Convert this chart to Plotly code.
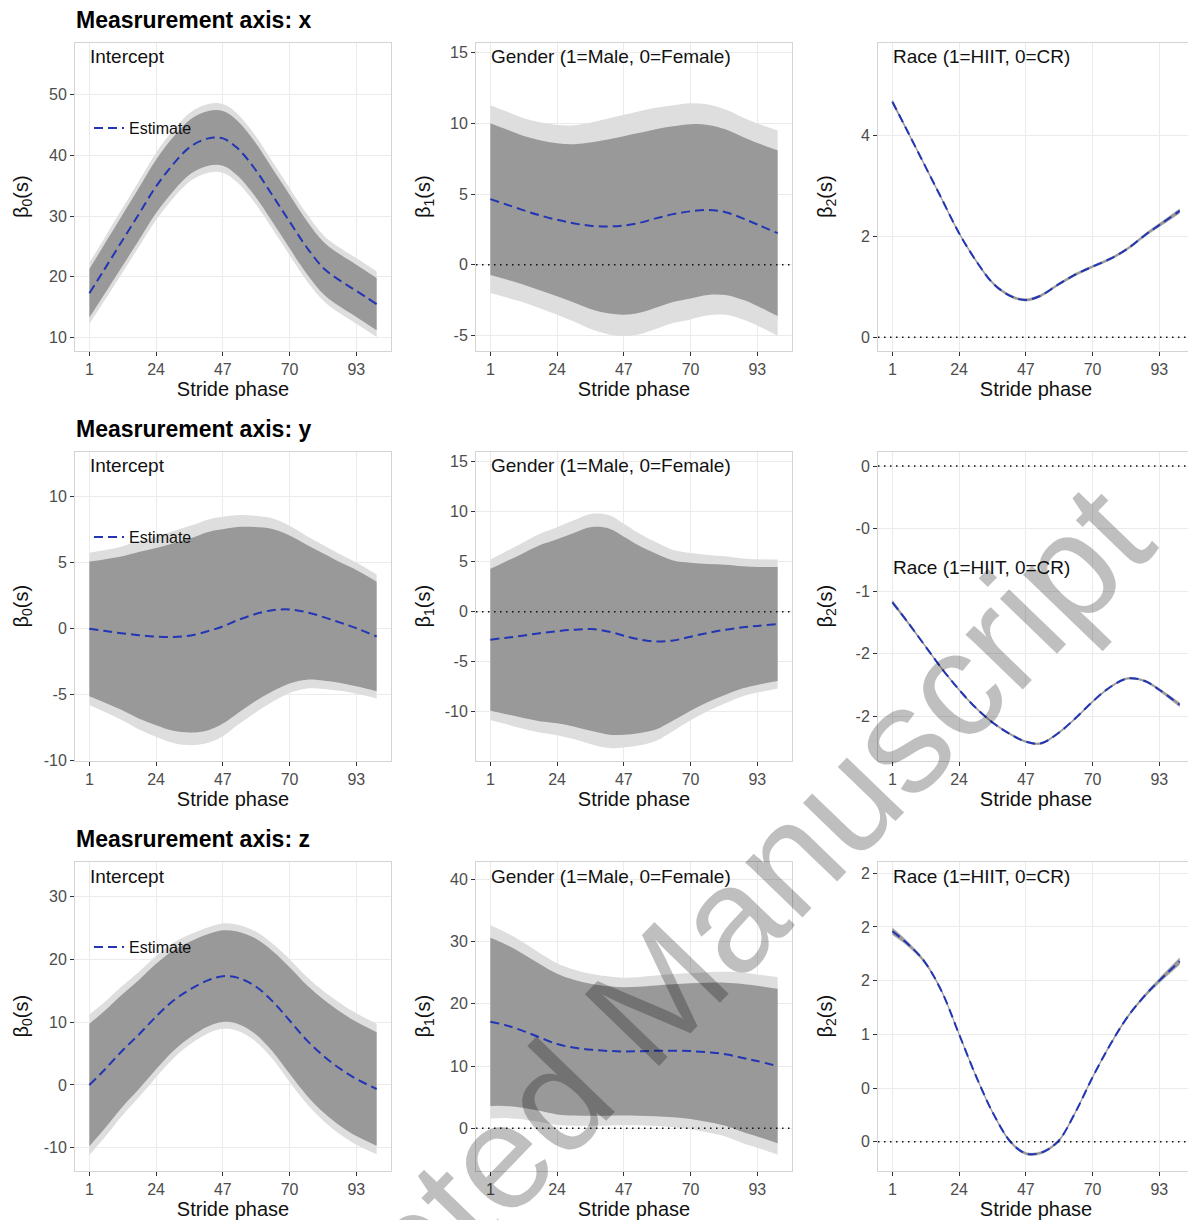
import plotly.graph_objects as go

# ---------------- data ----------------
STRIDE = [1, 6, 12, 18, 24, 30, 36, 42, 47, 52, 58, 64, 70, 76, 82, 88, 93, 100]
X_TICKS = [1, 24, 47, 70, 93]

# Measurement axis x
X_INT_EST = [17.3, 21.1, 25.7, 30.3, 34.9, 38.6, 41.5, 42.8, 42.8, 41.2, 37.8, 33.5, 29.1, 24.8, 21.3, 19.2, 17.7, 15.5]
X_INT_PW = [4.0, 4.1, 4.2, 4.3, 4.4, 4.45, 4.5, 4.5, 4.5, 4.5, 4.45, 4.4, 4.4, 4.35, 4.3, 4.3, 4.3, 4.3]
X_INT_SIM = [5.05, 5.15, 5.3, 5.4, 5.55, 5.6, 5.65, 5.65, 5.65, 5.65, 5.6, 5.55, 5.55, 5.5, 5.4, 5.4, 5.4, 5.4]

X_GEN_EST = [4.64, 4.3, 3.88, 3.5, 3.18, 2.92, 2.75, 2.71, 2.78, 2.95, 3.28, 3.58, 3.78, 3.88, 3.72, 3.28, 2.85, 2.24]
X_GEN_PW = [5.35, 5.3, 5.25, 5.3, 5.4, 5.6, 5.9, 6.15, 6.3, 6.35, 6.3, 6.2, 6.15, 6.0, 5.85, 5.75, 5.75, 5.85]
X_GEN_SIM = [6.63, 6.57, 6.51, 6.57, 6.7, 6.94, 7.32, 7.63, 7.81, 7.87, 7.81, 7.69, 7.63, 7.44, 7.25, 7.13, 7.13, 7.25]

X_RACE_EST = [4.66, 4.1, 3.42, 2.74, 2.06, 1.50, 1.05, 0.81, 0.74, 0.82, 1.04, 1.24, 1.40, 1.55, 1.75, 2.02, 2.22, 2.50]
X_RACE_PW = [0.04, 0.03, 0.025, 0.025, 0.025, 0.025, 0.025, 0.025, 0.025, 0.025, 0.025, 0.025, 0.025, 0.025, 0.025, 0.03, 0.035, 0.045]
X_RACE_SIM = [0.05, 0.038, 0.032, 0.032, 0.032, 0.032, 0.032, 0.032, 0.032, 0.032, 0.032, 0.032, 0.032, 0.032, 0.032, 0.038, 0.045, 0.055]

# Measurement axis y
Y_INT_EST = [-0.05, -0.2, -0.38, -0.53, -0.64, -0.67, -0.55, -0.22, 0.13, 0.6, 1.05, 1.36, 1.42, 1.2, 0.82, 0.38, 0.0, -0.63]
Y_INT_PW = [5.1, 5.4, 5.8, 6.3, 6.7, 7.1, 7.35, 7.5, 7.35, 7.05, 6.6, 6.15, 5.6, 5.1, 4.8, 4.55, 4.4, 4.15]
Y_INT_SIM = [5.76, 6.1, 6.55, 7.12, 7.57, 8.02, 8.31, 8.45, 8.3, 7.95, 7.46, 6.95, 6.33, 5.76, 5.42, 5.14, 4.97, 4.69]

Y_GEN_EST = [-2.8, -2.62, -2.4, -2.15, -1.95, -1.8, -1.74, -2.0, -2.4, -2.75, -2.98, -2.88, -2.5, -2.12, -1.8, -1.56, -1.42, -1.23]
Y_GEN_PW = [7.1, 7.6, 8.2, 8.8, 9.2, 9.7, 10.2, 10.3, 9.9, 9.4, 8.8, 8.0, 7.4, 6.9, 6.5, 6.1, 5.9, 5.7]
Y_GEN_SIM = [8.02, 8.59, 9.27, 9.94, 10.4, 10.96, 11.53, 11.64, 11.19, 10.62, 9.94, 9.04, 8.36, 7.8, 7.35, 6.89, 6.67, 6.44]

Y_RACE_EST = [-1.09, -1.24, -1.43, -1.62, -1.79, -1.94, -2.06, -2.15, -2.205, -2.22, -2.14, -2.02, -1.885, -1.77, -1.70, -1.72, -1.79, -1.91]
Y_RACE_PW = [0.016, 0.011, 0.009, 0.008, 0.008, 0.008, 0.008, 0.008, 0.008, 0.008, 0.008, 0.008, 0.008, 0.008, 0.008, 0.009, 0.011, 0.016]
Y_RACE_SIM = [0.022, 0.015, 0.012, 0.011, 0.011, 0.011, 0.011, 0.011, 0.011, 0.011, 0.011, 0.011, 0.011, 0.011, 0.011, 0.012, 0.015, 0.022]

# Measurement axis z
Z_INT_EST = [0.0, 2.3, 5.3, 8.0, 10.9, 13.46, 15.3, 16.7, 17.34, 17.1, 15.8, 13.4, 10.27, 7.1, 4.5, 2.4, 0.96, -0.64]
Z_INT_PW = [9.76, 9.4, 9.0, 8.7, 8.4, 8.0, 7.6, 7.35, 7.3, 7.35, 7.6, 8.0, 8.5, 8.8, 9.0, 9.1, 9.1, 9.04]
Z_INT_SIM = [11.22, 10.81, 10.35, 10.0, 9.66, 9.2, 8.74, 8.45, 8.4, 8.45, 8.74, 9.2, 9.78, 10.12, 10.35, 10.47, 10.47, 10.4]

Z_GEN_EST = [17.1, 16.6, 15.7, 14.6, 13.53, 12.94, 12.6, 12.42, 12.35, 12.38, 12.45, 12.46, 12.4, 12.2, 11.9, 11.3, 10.8, 10.0]
Z_GEN_PW = [13.5, 13.0, 12.4, 11.8, 11.3, 10.9, 10.6, 10.4, 10.3, 10.35, 10.5, 10.7, 10.9, 11.2, 11.5, 11.9, 12.1, 12.4]
Z_GEN_SIM = [15.53, 14.95, 14.26, 13.57, 13.0, 12.54, 12.19, 11.96, 11.85, 11.9, 12.08, 12.31, 12.54, 12.88, 13.23, 13.69, 13.92, 14.26]

Z_RACE_EST = [1.96, 1.85, 1.68, 1.40, 1.0, 0.60, 0.25, -0.01, -0.11, -0.105, 0.0, 0.27, 0.60, 0.90, 1.16, 1.36, 1.50, 1.68]
Z_RACE_PW = [0.03, 0.02, 0.015, 0.012, 0.012, 0.012, 0.012, 0.012, 0.012, 0.012, 0.012, 0.012, 0.012, 0.012, 0.012, 0.015, 0.02, 0.03]
Z_RACE_SIM = [0.04, 0.027, 0.02, 0.016, 0.016, 0.016, 0.016, 0.016, 0.016, 0.016, 0.016, 0.016, 0.016, 0.016, 0.016, 0.02, 0.027, 0.04]

# y tick values and labels
X_INT_TICKS = [10, 20, 30, 40, 50]
X_GEN_TICKS = [-5, 0, 5, 10, 15]
X_RACE_TICKS = [0, 2, 4]
Y_INT_TICKS = [-10, -5, 0, 5, 10]
Y_GEN_TICKS = [-10, -5, 0, 5, 10, 15]
Y_RACE_TICKS = [0, -0.5, -1, -1.5, -2]
Y_RACE_LABELS = ["0", "-0", "-1", "-2", "-2"]
Z_INT_TICKS = [-10, 0, 10, 20, 30]
Z_GEN_TICKS = [0, 10, 20, 30, 40]
Z_RACE_TICKS = [0, 0.5, 1, 1.5, 2, 2.5]
Z_RACE_LABELS = ["0", "0", "1", "2", "2", "2"]

ROW_TITLES = ["Measrurement axis: x", "Measrurement axis: y", "Measrurement axis: z"]
PANEL_LABELS = ["Intercept", "Gender (1=Male, 0=Female)", "Race (1=HIIT, 0=CR)"]
Y_TITLES = ["β<sub>0</sub>(s)", "β<sub>1</sub>(s)", "β<sub>2</sub>(s)"]

# ---------------- layout constants ----------------
OFF = 8                      # the page body margin that shifts the plot
W, H = 1196 - OFF, 1220 - OFF
FONT = "Liberation Sans, Arial, Helvetica, sans-serif"
COLS = [(75, 391), (476, 792), (878, 1194)]
ROWS = [(43, 351), (452, 761), (862, 1171)]
X_RANGE = [-3.95, 104.95]
Y_RANGES = [
    [7.8, 58.5], [-6.08, 15.66], [-0.27, 5.82],
    [-10.05, 13.33], [-14.93, 15.97], [-2.36, 0.112],
    [-13.71, 35.53], [-6.86, 42.78], [-0.273, 2.605],
]
LIGHT = "#DEDEDE"
DARK = "#999999"
BLUE = "#2236B5"


def px(xp):
    return (xp - OFF) / W


def py(yp):
    return 1 - (yp - OFF) / H


def fmt(v):
    return f"{v:g}"


panels = [
    (X_INT_EST, X_INT_PW, X_INT_SIM, X_INT_TICKS, None),
    (X_GEN_EST, X_GEN_PW, X_GEN_SIM, X_GEN_TICKS, None),
    (X_RACE_EST, X_RACE_PW, X_RACE_SIM, X_RACE_TICKS, None),
    (Y_INT_EST, Y_INT_PW, Y_INT_SIM, Y_INT_TICKS, None),
    (Y_GEN_EST, Y_GEN_PW, Y_GEN_SIM, Y_GEN_TICKS, None),
    (Y_RACE_EST, Y_RACE_PW, Y_RACE_SIM, Y_RACE_TICKS, Y_RACE_LABELS),
    (Z_INT_EST, Z_INT_PW, Z_INT_SIM, Z_INT_TICKS, None),
    (Z_GEN_EST, Z_GEN_PW, Z_GEN_SIM, Z_GEN_TICKS, None),
    (Z_RACE_EST, Z_RACE_PW, Z_RACE_SIM, Z_RACE_TICKS, Z_RACE_LABELS),
]

fig = go.Figure()
layout = {}
shapes = []
annotations = []
legend_names = ["legend", "legend2", "legend3"]

for k, (est, pw, sim, yticks, ylabels) in enumerate(panels):
    r, c = divmod(k, 3)
    n = k + 1
    xa = "x" if n == 1 else f"x{n}"
    ya = "y" if n == 1 else f"y{n}"
    lo_s = [e - s for e, s in zip(est, sim)]
    hi_s = [e + s for e, s in zip(est, sim)]
    lo_p = [e - s for e, s in zip(est, pw)]
    hi_p = [e + s for e, s in zip(est, pw)]
    common = dict(x=STRIDE, mode="lines", xaxis=xa, yaxis=ya, hoverinfo="skip", showlegend=False)
    fig.add_trace(go.Scatter(y=lo_s, line=dict(width=0, shape="spline"), **common))
    fig.add_trace(go.Scatter(y=hi_s, line=dict(width=0, shape="spline"), fill="tonexty",
                             fillcolor=LIGHT, **common))
    fig.add_trace(go.Scatter(y=lo_p, line=dict(width=0, shape="spline"), **common))
    fig.add_trace(go.Scatter(y=hi_p, line=dict(width=0, shape="spline"), fill="tonexty",
                             fillcolor=DARK, **common))
    est_kw = dict(x=STRIDE, y=est, mode="lines", xaxis=xa, yaxis=ya, name="Estimate",
                  line=dict(color=BLUE, width=2, dash="9px,5px", shape="spline"))
    if c == 0:
        est_kw.update(showlegend=True, legend=legend_names[r])
    else:
        est_kw.update(showlegend=False)
    fig.add_trace(go.Scatter(**est_kw))

    x0, x1 = COLS[c]
    y0, y1 = ROWS[r]
    axis_common = dict(
        showgrid=True, gridcolor="#EBEBEB", gridwidth=1,
        showline=True, mirror=True, linecolor="#D4D4D4", linewidth=1,
        ticks="outside", ticklen=4, tickwidth=1, tickcolor="#333333",
        tickfont=dict(family=FONT, size=16, color="#4D4D4D"),
        zeroline=False, automargin=False,
    )
    layout["xaxis" if n == 1 else f"xaxis{n}"] = dict(
        domain=[px(x0), px(x1)], anchor=ya, range=X_RANGE,
        tickmode="array", tickvals=X_TICKS, ticktext=[fmt(v) for v in X_TICKS],
        title=dict(text="Stride phase", font=dict(family=FONT, size=20, color="#111111"), standoff=2),
        **axis_common,
    )
    yax = dict(domain=[py(y1), py(y0)], anchor=xa, range=Y_RANGES[k],
               tickmode="array", tickvals=yticks,
               ticktext=ylabels if ylabels is not None else [fmt(v) for v in yticks],
               **axis_common)
    layout["yaxis" if n == 1 else f"yaxis{n}"] = yax

    # y axis title
    annotations.append(dict(
        text=Y_TITLES[c], xref="paper", yref="paper",
        x=px([22, 424, 826][c]), y=py((y0 + y1) / 2), textangle=-90,
        showarrow=False, xanchor="center", yanchor="middle",
        font=dict(family=FONT, size=20, color="#111111"),
    ))

    # panel label
    label_y = y0 + 14
    if k == 5:
        label_y = 567
    annotations.append(dict(
        text=PANEL_LABELS[c], xref="paper", yref="paper",
        x=px(x0 + 13), y=py(label_y), showarrow=False,
        xanchor="left", yanchor="middle",
        font=dict(family=FONT, size=19, color="#111111"),
    ))

    # zero reference line
    if c > 0:
        shapes.append(dict(
            type="line", xref=f"{xa} domain", yref=ya, x0=0, x1=1, y0=0, y1=0,
            line=dict(color="#111111", width=1.5, dash="1.5px,4.5px"), layer="above",
        ))

for r in range(3):
    annotations.append(dict(
        text=f"<b>{ROW_TITLES[r]}</b>", xref="paper", yref="paper",
        x=px(74), y=py(ROWS[r][0] - 23), showarrow=False,
        xanchor="left", yanchor="middle",
        font=dict(family=FONT, size=23, color="#000000"),
    ))
    layout[legend_names[r]] = dict(
        x=px(89), y=py(ROWS[r][0] + 85), xanchor="left", yanchor="middle",
        bgcolor="rgba(0,0,0,0)", borderwidth=0, itemwidth=30,
        font=dict(family=FONT, size=16, color="#111111"),
    )

# watermark
annotations.append(dict(
    text="Accepted Manuscript", xref="paper", yref="paper",
    x=px(636), y=py(1015), textangle=-46, showarrow=False,
    xanchor="center", yanchor="middle",
    font=dict(family=FONT, size=150, color="rgba(0,0,0,0.25)"),
))

fig.update_layout(
    width=W, height=H, margin=dict(l=0, r=0, t=0, b=0),
    paper_bgcolor="white", plot_bgcolor="white",
    font=dict(family=FONT),
    shapes=shapes, annotations=annotations,
    **layout,
)

fig.write_html("out.html")
